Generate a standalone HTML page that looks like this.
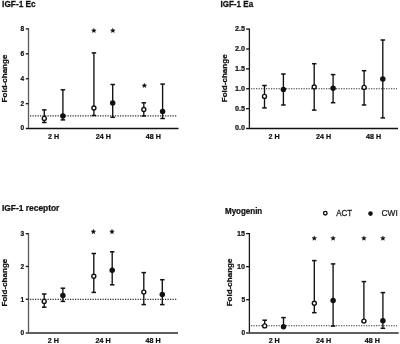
<!DOCTYPE html>
<html><head><meta charset="utf-8"><style>
html,body{margin:0;padding:0;background:#fff;}
svg{display:block;font-family:"Liberation Sans", sans-serif;will-change:transform;}
.b{font-weight:bold;fill:#111;stroke:#111;stroke-width:0.25;}
.r{fill:#1a1a1a;stroke:#1a1a1a;stroke-width:0.25;}
</style></head><body>
<svg width="400" height="344" viewBox="0 0 400 344">
<rect width="400" height="344" fill="#fff"/>
<text class="b" transform="translate(2.1,6.9) scale(0.975,1)" font-size="8.5">IGF-1 Ec</text>
<line x1="28.5" y1="28.3" x2="28.5" y2="127.8" stroke="#5a5a5a" stroke-width="1.3"/>
<line x1="25.8" y1="128.5" x2="178.5" y2="128.5" stroke="#111" stroke-width="1.5"/>
<text class="b" transform="translate(24.2,130.35) scale(0.83,1)" font-size="7.9" text-anchor="end">0</text>
<line x1="25.8" y1="103.67" x2="28.5" y2="103.67" stroke="#111" stroke-width="1.3"/>
<text class="b" transform="translate(24.2,105.97) scale(0.83,1)" font-size="7.9" text-anchor="end">2</text>
<line x1="25.8" y1="78.75" x2="28.5" y2="78.75" stroke="#111" stroke-width="1.3"/>
<text class="b" transform="translate(24.2,81.05) scale(0.83,1)" font-size="7.9" text-anchor="end">4</text>
<line x1="25.8" y1="53.83" x2="28.5" y2="53.83" stroke="#111" stroke-width="1.3"/>
<text class="b" transform="translate(24.2,56.12) scale(0.83,1)" font-size="7.9" text-anchor="end">6</text>
<line x1="25.8" y1="28.9" x2="28.5" y2="28.9" stroke="#111" stroke-width="1.3"/>
<text class="b" transform="translate(24.2,31.2) scale(0.83,1)" font-size="7.9" text-anchor="end">8</text>
<text class="b" transform="translate(6.5,78.5) rotate(-90)" font-size="8.05" text-anchor="middle">Fold-change</text>
<text class="b" transform="translate(53.5,139) scale(0.94,1)" font-size="7.6" text-anchor="middle">2 H</text>
<text class="b" transform="translate(103.3,139) scale(0.94,1)" font-size="7.6" text-anchor="middle">24 H</text>
<text class="b" transform="translate(153.3,139) scale(0.94,1)" font-size="7.6" text-anchor="middle">48 H</text>
<line x1="30" y1="115.9" x2="177" y2="115.9" stroke="#333" stroke-width="1.1" stroke-dasharray="1.25 1.25"/>
<line x1="44.3" y1="109.9" x2="44.3" y2="122.5" stroke="#111" stroke-width="1.35"/>
<line x1="42.05" y1="109.9" x2="46.55" y2="109.9" stroke="#111" stroke-width="1.5"/>
<line x1="42.05" y1="122.5" x2="46.55" y2="122.5" stroke="#111" stroke-width="1.5"/>
<circle cx="44.3" cy="118.4" r="2" fill="#fff" stroke="#111" stroke-width="1.4"/>
<line x1="62.9" y1="89.8" x2="62.9" y2="119.9" stroke="#111" stroke-width="1.35"/>
<line x1="60.65" y1="89.8" x2="65.15" y2="89.8" stroke="#111" stroke-width="1.5"/>
<line x1="60.65" y1="119.9" x2="65.15" y2="119.9" stroke="#111" stroke-width="1.5"/>
<circle cx="62.9" cy="116" r="2.75" fill="#111"/>
<line x1="93.9" y1="52.9" x2="93.9" y2="115.5" stroke="#111" stroke-width="1.35"/>
<line x1="91.65" y1="52.9" x2="96.15" y2="52.9" stroke="#111" stroke-width="1.5"/>
<line x1="91.65" y1="115.5" x2="96.15" y2="115.5" stroke="#111" stroke-width="1.5"/>
<circle cx="93.9" cy="108" r="2" fill="#fff" stroke="#111" stroke-width="1.4"/>
<line x1="112.7" y1="84.5" x2="112.7" y2="117.3" stroke="#111" stroke-width="1.35"/>
<line x1="110.45" y1="84.5" x2="114.95" y2="84.5" stroke="#111" stroke-width="1.5"/>
<line x1="110.45" y1="117.3" x2="114.95" y2="117.3" stroke="#111" stroke-width="1.5"/>
<circle cx="112.7" cy="102.9" r="2.75" fill="#111"/>
<line x1="143.8" y1="102.8" x2="143.8" y2="116" stroke="#111" stroke-width="1.35"/>
<line x1="141.55" y1="102.8" x2="146.05" y2="102.8" stroke="#111" stroke-width="1.5"/>
<line x1="141.55" y1="116" x2="146.05" y2="116" stroke="#111" stroke-width="1.5"/>
<circle cx="143.8" cy="109.5" r="2" fill="#fff" stroke="#111" stroke-width="1.4"/>
<line x1="162.6" y1="84.1" x2="162.6" y2="118.5" stroke="#111" stroke-width="1.35"/>
<line x1="160.35" y1="84.1" x2="164.85" y2="84.1" stroke="#111" stroke-width="1.5"/>
<line x1="160.35" y1="118.5" x2="164.85" y2="118.5" stroke="#111" stroke-width="1.5"/>
<circle cx="162.6" cy="111.4" r="2.75" fill="#111"/>
<polygon points="93.85,28.18 94.53,29.7 96.18,29.88 94.94,30.99 95.29,32.62 93.85,31.78 92.41,32.62 92.76,30.99 91.52,29.88 93.17,29.7" fill="#111" stroke="#111" stroke-width="0.35" stroke-linejoin="round"/>
<polygon points="112.8,28.18 113.48,29.7 115.13,29.88 113.89,30.99 114.24,32.62 112.8,31.78 111.36,32.62 111.71,30.99 110.47,29.88 112.12,29.7" fill="#111" stroke="#111" stroke-width="0.35" stroke-linejoin="round"/>
<polygon points="144.4,83.18 145.08,84.7 146.73,84.88 145.49,85.99 145.84,87.62 144.4,86.78 142.96,87.62 143.31,85.99 142.07,84.88 143.72,84.7" fill="#111" stroke="#111" stroke-width="0.35" stroke-linejoin="round"/>
<text class="b" transform="translate(220.4,6.9) scale(0.95,1)" font-size="8.5">IGF-1 Ea</text>
<line x1="249.4" y1="28.5" x2="249.4" y2="127.8" stroke="#1a1a1a" stroke-width="1.3"/>
<line x1="246.1" y1="128.5" x2="398" y2="128.5" stroke="#111" stroke-width="1.5"/>
<text class="b" transform="translate(245.1,130.35) scale(0.91,1)" font-size="7.9" text-anchor="end">0.0</text>
<line x1="246.1" y1="108.7" x2="249.4" y2="108.7" stroke="#111" stroke-width="1.3"/>
<text class="b" transform="translate(245.1,111) scale(0.91,1)" font-size="7.9" text-anchor="end">0.5</text>
<line x1="246.1" y1="88.8" x2="249.4" y2="88.8" stroke="#111" stroke-width="1.3"/>
<text class="b" transform="translate(245.1,91.1) scale(0.91,1)" font-size="7.9" text-anchor="end">1.0</text>
<line x1="246.1" y1="68.9" x2="249.4" y2="68.9" stroke="#111" stroke-width="1.3"/>
<text class="b" transform="translate(245.1,71.2) scale(0.91,1)" font-size="7.9" text-anchor="end">1.5</text>
<line x1="246.1" y1="49" x2="249.4" y2="49" stroke="#111" stroke-width="1.3"/>
<text class="b" transform="translate(245.1,51.3) scale(0.91,1)" font-size="7.9" text-anchor="end">2.0</text>
<line x1="246.1" y1="29.1" x2="249.4" y2="29.1" stroke="#111" stroke-width="1.3"/>
<text class="b" transform="translate(245.1,31.4) scale(0.91,1)" font-size="7.9" text-anchor="end">2.5</text>
<text class="b" transform="translate(226.7,78.3) rotate(-90)" font-size="8.05" text-anchor="middle">Fold-change</text>
<text class="b" transform="translate(274,139) scale(0.94,1)" font-size="7.6" text-anchor="middle">2 H</text>
<text class="b" transform="translate(323.6,139) scale(0.94,1)" font-size="7.6" text-anchor="middle">24 H</text>
<text class="b" transform="translate(373.5,139) scale(0.94,1)" font-size="7.6" text-anchor="middle">48 H</text>
<line x1="251" y1="88.8" x2="397" y2="88.8" stroke="#333" stroke-width="1.1" stroke-dasharray="1.25 1.25"/>
<line x1="264.5" y1="85.5" x2="264.5" y2="107.9" stroke="#111" stroke-width="1.35"/>
<line x1="262.25" y1="85.5" x2="266.75" y2="85.5" stroke="#111" stroke-width="1.5"/>
<line x1="262.25" y1="107.9" x2="266.75" y2="107.9" stroke="#111" stroke-width="1.5"/>
<circle cx="264.5" cy="96.4" r="2" fill="#fff" stroke="#111" stroke-width="1.4"/>
<line x1="283.4" y1="74" x2="283.4" y2="105" stroke="#111" stroke-width="1.35"/>
<line x1="281.15" y1="74" x2="285.65" y2="74" stroke="#111" stroke-width="1.5"/>
<line x1="281.15" y1="105" x2="285.65" y2="105" stroke="#111" stroke-width="1.5"/>
<circle cx="283.4" cy="89.4" r="2.75" fill="#111"/>
<line x1="314.2" y1="63.7" x2="314.2" y2="110.1" stroke="#111" stroke-width="1.35"/>
<line x1="311.95" y1="63.7" x2="316.45" y2="63.7" stroke="#111" stroke-width="1.5"/>
<line x1="311.95" y1="110.1" x2="316.45" y2="110.1" stroke="#111" stroke-width="1.5"/>
<circle cx="314.2" cy="87" r="2" fill="#fff" stroke="#111" stroke-width="1.4"/>
<line x1="333.1" y1="74.6" x2="333.1" y2="102.7" stroke="#111" stroke-width="1.35"/>
<line x1="330.85" y1="74.6" x2="335.35" y2="74.6" stroke="#111" stroke-width="1.5"/>
<line x1="330.85" y1="102.7" x2="335.35" y2="102.7" stroke="#111" stroke-width="1.5"/>
<circle cx="333.1" cy="88.2" r="2.75" fill="#111"/>
<line x1="364.1" y1="70.7" x2="364.1" y2="105" stroke="#111" stroke-width="1.35"/>
<line x1="361.85" y1="70.7" x2="366.35" y2="70.7" stroke="#111" stroke-width="1.5"/>
<line x1="361.85" y1="105" x2="366.35" y2="105" stroke="#111" stroke-width="1.5"/>
<circle cx="364.1" cy="87.4" r="2" fill="#fff" stroke="#111" stroke-width="1.4"/>
<line x1="382.8" y1="40" x2="382.8" y2="117.9" stroke="#111" stroke-width="1.35"/>
<line x1="380.55" y1="40" x2="385.05" y2="40" stroke="#111" stroke-width="1.5"/>
<line x1="380.55" y1="117.9" x2="385.05" y2="117.9" stroke="#111" stroke-width="1.5"/>
<circle cx="382.8" cy="78.9" r="2.75" fill="#111"/>
<text class="b" transform="translate(2,210.8) scale(0.99,1)" font-size="8.5">IGF-1 receptor</text>
<line x1="28.5" y1="233.1" x2="28.5" y2="332.3" stroke="#5a5a5a" stroke-width="1.3"/>
<line x1="25.8" y1="333.0" x2="178" y2="333.0" stroke="#2a2a2a" stroke-width="1.6"/>
<text class="b" transform="translate(24.2,334.85) scale(0.83,1)" font-size="7.9" text-anchor="end">0</text>
<line x1="25.8" y1="299.23" x2="28.5" y2="299.23" stroke="#111" stroke-width="1.3"/>
<text class="b" transform="translate(24.2,301.53) scale(0.83,1)" font-size="7.9" text-anchor="end">1</text>
<line x1="25.8" y1="266.47" x2="28.5" y2="266.47" stroke="#111" stroke-width="1.3"/>
<text class="b" transform="translate(24.2,268.77) scale(0.83,1)" font-size="7.9" text-anchor="end">2</text>
<line x1="25.8" y1="233.7" x2="28.5" y2="233.7" stroke="#111" stroke-width="1.3"/>
<text class="b" transform="translate(24.2,236) scale(0.83,1)" font-size="7.9" text-anchor="end">3</text>
<text class="b" transform="translate(6.5,282.6) rotate(-90)" font-size="8.05" text-anchor="middle">Fold-change</text>
<text class="b" transform="translate(53.3,343.4) scale(0.94,1)" font-size="7.6" text-anchor="middle">2 H</text>
<text class="b" transform="translate(103,343.4) scale(0.94,1)" font-size="7.6" text-anchor="middle">24 H</text>
<text class="b" transform="translate(153,343.4) scale(0.94,1)" font-size="7.6" text-anchor="middle">48 H</text>
<line x1="30" y1="299.4" x2="177" y2="299.4" stroke="#333" stroke-width="1.1" stroke-dasharray="1.25 1.25"/>
<line x1="44.2" y1="294" x2="44.2" y2="307.2" stroke="#111" stroke-width="1.35"/>
<line x1="41.95" y1="294" x2="46.45" y2="294" stroke="#111" stroke-width="1.5"/>
<line x1="41.95" y1="307.2" x2="46.45" y2="307.2" stroke="#111" stroke-width="1.5"/>
<circle cx="44.2" cy="301.4" r="2" fill="#fff" stroke="#111" stroke-width="1.4"/>
<line x1="62.9" y1="288.2" x2="62.9" y2="301.4" stroke="#111" stroke-width="1.35"/>
<line x1="60.65" y1="288.2" x2="65.15" y2="288.2" stroke="#111" stroke-width="1.5"/>
<line x1="60.65" y1="301.4" x2="65.15" y2="301.4" stroke="#111" stroke-width="1.5"/>
<circle cx="62.9" cy="295.4" r="2.75" fill="#111"/>
<line x1="93.8" y1="253.5" x2="93.8" y2="292.4" stroke="#111" stroke-width="1.35"/>
<line x1="91.55" y1="253.5" x2="96.05" y2="253.5" stroke="#111" stroke-width="1.5"/>
<line x1="91.55" y1="292.4" x2="96.05" y2="292.4" stroke="#111" stroke-width="1.5"/>
<circle cx="93.8" cy="276.3" r="2" fill="#fff" stroke="#111" stroke-width="1.4"/>
<line x1="112.2" y1="251.8" x2="112.2" y2="284.8" stroke="#111" stroke-width="1.35"/>
<line x1="109.95" y1="251.8" x2="114.45" y2="251.8" stroke="#111" stroke-width="1.5"/>
<line x1="109.95" y1="284.8" x2="114.45" y2="284.8" stroke="#111" stroke-width="1.5"/>
<circle cx="112.2" cy="270.3" r="2.75" fill="#111"/>
<line x1="143.8" y1="272.6" x2="143.8" y2="304.6" stroke="#111" stroke-width="1.35"/>
<line x1="141.55" y1="272.6" x2="146.05" y2="272.6" stroke="#111" stroke-width="1.5"/>
<line x1="141.55" y1="304.6" x2="146.05" y2="304.6" stroke="#111" stroke-width="1.5"/>
<circle cx="143.8" cy="292.1" r="2" fill="#fff" stroke="#111" stroke-width="1.4"/>
<line x1="162.3" y1="279.7" x2="162.3" y2="304.6" stroke="#111" stroke-width="1.35"/>
<line x1="160.05" y1="279.7" x2="164.55" y2="279.7" stroke="#111" stroke-width="1.5"/>
<line x1="160.05" y1="304.6" x2="164.55" y2="304.6" stroke="#111" stroke-width="1.5"/>
<circle cx="162.3" cy="294.4" r="2.75" fill="#111"/>
<polygon points="93.4,229.28 94.08,230.8 95.73,230.98 94.49,232.09 94.84,233.72 93.4,232.88 91.96,233.72 92.31,232.09 91.07,230.98 92.72,230.8" fill="#111" stroke="#111" stroke-width="0.35" stroke-linejoin="round"/>
<polygon points="112,229.28 112.68,230.8 114.33,230.98 113.09,232.09 113.44,233.72 112,232.88 110.56,233.72 110.91,232.09 109.67,230.98 111.32,230.8" fill="#111" stroke="#111" stroke-width="0.35" stroke-linejoin="round"/>
<text class="b" transform="translate(225,213.8) scale(0.94,1)" font-size="8.5">Myogenin</text>
<line x1="249.4" y1="233" x2="249.4" y2="332.3" stroke="#1a1a1a" stroke-width="1.3"/>
<line x1="246.1" y1="333.0" x2="398.7" y2="333.0" stroke="#2a2a2a" stroke-width="1.6"/>
<text class="b" transform="translate(245.1,334.85) scale(0.83,1)" font-size="7.9" text-anchor="end">0</text>
<line x1="246.1" y1="299.73" x2="249.4" y2="299.73" stroke="#111" stroke-width="1.3"/>
<text class="b" transform="translate(245.1,302.03) scale(0.83,1)" font-size="7.9" text-anchor="end">5</text>
<line x1="246.1" y1="266.67" x2="249.4" y2="266.67" stroke="#111" stroke-width="1.3"/>
<text class="b" transform="translate(245.1,268.97) scale(0.91,1)" font-size="7.9" text-anchor="end">10</text>
<line x1="246.1" y1="233.6" x2="249.4" y2="233.6" stroke="#111" stroke-width="1.3"/>
<text class="b" transform="translate(245.1,235.9) scale(0.91,1)" font-size="7.9" text-anchor="end">15</text>
<text class="b" transform="translate(231.6,282.4) rotate(-90)" font-size="8.05" text-anchor="middle">Fold-change</text>
<text class="b" transform="translate(274.2,343.4) scale(0.94,1)" font-size="7.6" text-anchor="middle">2 H</text>
<text class="b" transform="translate(323.6,343.4) scale(0.94,1)" font-size="7.6" text-anchor="middle">24 H</text>
<text class="b" transform="translate(372.3,343.4) scale(0.94,1)" font-size="7.6" text-anchor="middle">48 H</text>
<line x1="251" y1="325.8" x2="397" y2="325.8" stroke="#333" stroke-width="1.1" stroke-dasharray="1.25 1.25"/>
<line x1="264.7" y1="320.2" x2="264.7" y2="325.9" stroke="#111" stroke-width="1.35"/>
<line x1="262.45" y1="320.2" x2="266.95" y2="320.2" stroke="#111" stroke-width="1.5"/>
<line x1="262.45" y1="325.9" x2="266.95" y2="325.9" stroke="#111" stroke-width="1.5"/>
<circle cx="264.7" cy="325.9" r="2" fill="#fff" stroke="#111" stroke-width="1.4"/>
<line x1="283.5" y1="317.6" x2="283.5" y2="326.7" stroke="#111" stroke-width="1.35"/>
<line x1="281.25" y1="317.6" x2="285.75" y2="317.6" stroke="#111" stroke-width="1.5"/>
<line x1="281.25" y1="326.7" x2="285.75" y2="326.7" stroke="#111" stroke-width="1.5"/>
<circle cx="283.5" cy="326.7" r="2.75" fill="#111"/>
<line x1="314.3" y1="260.6" x2="314.3" y2="312.7" stroke="#111" stroke-width="1.35"/>
<line x1="312.05" y1="260.6" x2="316.55" y2="260.6" stroke="#111" stroke-width="1.5"/>
<line x1="312.05" y1="312.7" x2="316.55" y2="312.7" stroke="#111" stroke-width="1.5"/>
<circle cx="314.3" cy="303.3" r="2" fill="#fff" stroke="#111" stroke-width="1.4"/>
<line x1="333.1" y1="263.9" x2="333.1" y2="326.1" stroke="#111" stroke-width="1.35"/>
<line x1="330.85" y1="263.9" x2="335.35" y2="263.9" stroke="#111" stroke-width="1.5"/>
<line x1="330.85" y1="326.1" x2="335.35" y2="326.1" stroke="#111" stroke-width="1.5"/>
<circle cx="333.1" cy="300.4" r="2.75" fill="#111"/>
<line x1="363.9" y1="281.6" x2="363.9" y2="322" stroke="#111" stroke-width="1.35"/>
<line x1="361.65" y1="281.6" x2="366.15" y2="281.6" stroke="#111" stroke-width="1.5"/>
<line x1="361.65" y1="322" x2="366.15" y2="322" stroke="#111" stroke-width="1.5"/>
<circle cx="363.9" cy="321.1" r="2" fill="#fff" stroke="#111" stroke-width="1.4"/>
<line x1="382.9" y1="292.6" x2="382.9" y2="328.3" stroke="#111" stroke-width="1.35"/>
<line x1="380.65" y1="292.6" x2="385.15" y2="292.6" stroke="#111" stroke-width="1.5"/>
<line x1="380.65" y1="328.3" x2="385.15" y2="328.3" stroke="#111" stroke-width="1.5"/>
<circle cx="382.9" cy="320.8" r="2.75" fill="#111"/>
<polygon points="314.3,235.88 314.98,237.4 316.63,237.58 315.39,238.69 315.74,240.32 314.3,239.48 312.86,240.32 313.21,238.69 311.97,237.58 313.62,237.4" fill="#111" stroke="#111" stroke-width="0.35" stroke-linejoin="round"/>
<polygon points="333.1,235.88 333.78,237.4 335.43,237.58 334.19,238.69 334.54,240.32 333.1,239.48 331.66,240.32 332.01,238.69 330.77,237.58 332.42,237.4" fill="#111" stroke="#111" stroke-width="0.35" stroke-linejoin="round"/>
<polygon points="363.9,235.88 364.58,237.4 366.23,237.58 364.99,238.69 365.34,240.32 363.9,239.48 362.46,240.32 362.81,238.69 361.57,237.58 363.22,237.4" fill="#111" stroke="#111" stroke-width="0.35" stroke-linejoin="round"/>
<polygon points="382.9,235.88 383.58,237.4 385.23,237.58 383.99,238.69 384.34,240.32 382.9,239.48 381.46,240.32 381.81,238.69 380.57,237.58 382.22,237.4" fill="#111" stroke="#111" stroke-width="0.35" stroke-linejoin="round"/>
<circle cx="325.3" cy="213.2" r="1.8" fill="#fff" stroke="#111" stroke-width="1.35"/>
<text class="r" transform="translate(336.2,215.5) scale(0.95,1)" font-size="8.4">ACT</text>
<circle cx="370.5" cy="213.6" r="2.3" fill="#111"/>
<text class="r" transform="translate(381.6,215.5) scale(0.99,1)" font-size="8.4">CWI</text>
</svg>
</body></html>
